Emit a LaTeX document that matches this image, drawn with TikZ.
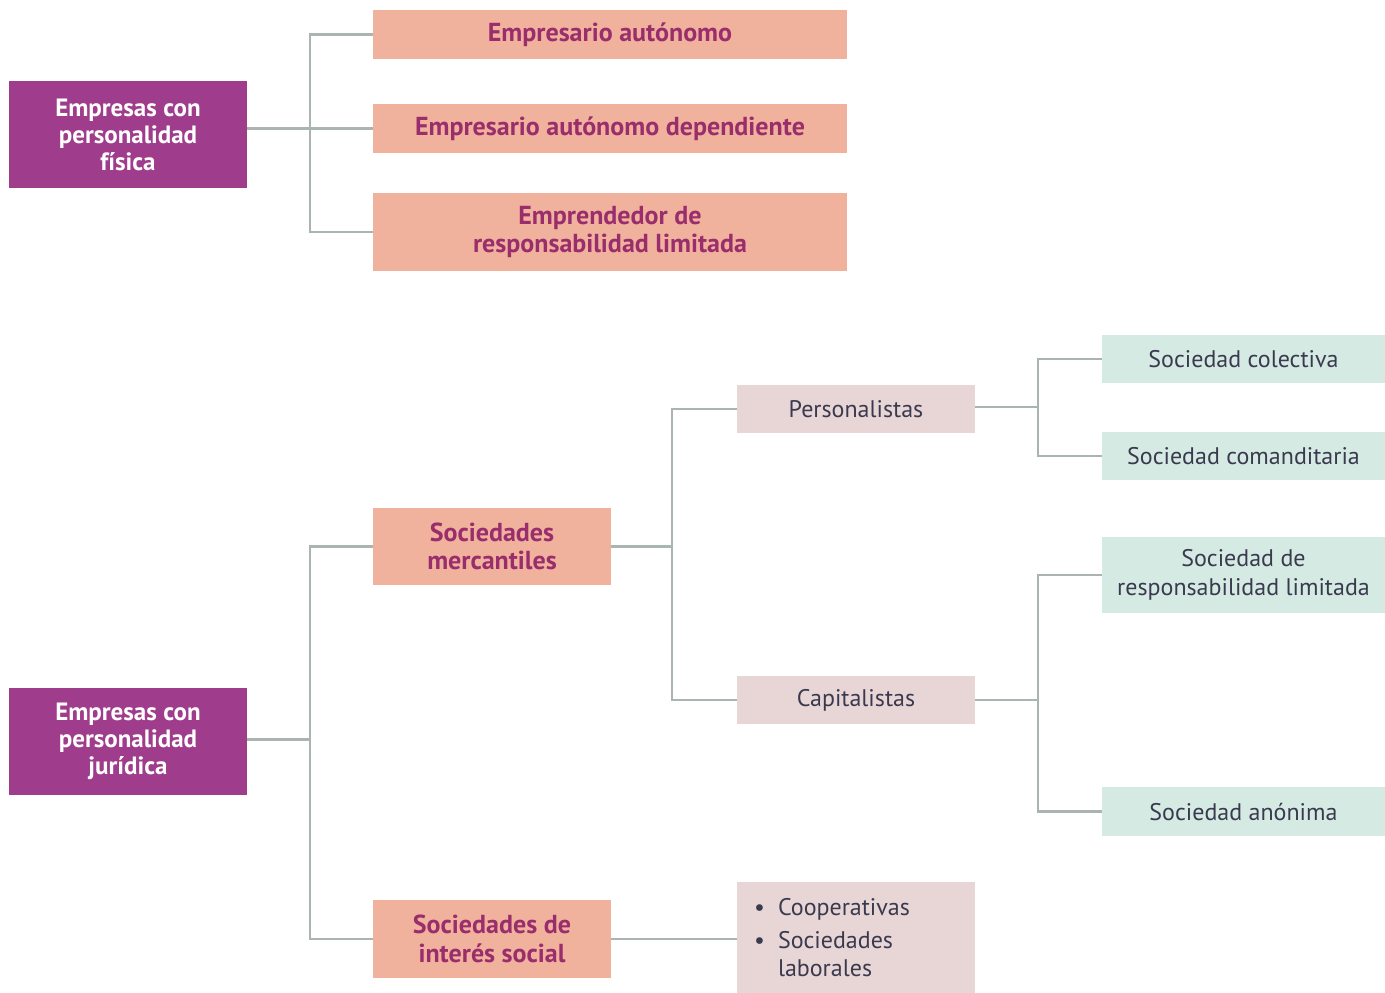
\documentclass[tikz,border=0pt]{standalone}
\usepackage{fontspec}
\setmainfont{PT Sans}
\usetikzlibrary{calc}
\definecolor{purp}{HTML}{A03C8C}
\definecolor{salm}{HTML}{F0B29C}
\definecolor{salmtxt}{HTML}{9A2D6C}
\definecolor{pinkb}{HTML}{E8D6D7}
\definecolor{mint}{HTML}{D6EAE4}
\definecolor{darktxt}{HTML}{3A3A4E}
\definecolor{conn}{HTML}{A9B5AE}
\tikzset{
  box/.style={inner sep=0pt, outer sep=0pt, align=center, anchor=north west, font=\fontsize{24}{29}\selectfont},
  purpbox/.style={box, fill=purp, text=white, font=\fontsize{25}{27}\selectfont\bfseries},
  salmbox/.style={box, fill=salm, text=salmtxt, font=\fontsize{26}{28.5}\selectfont\bfseries},
  pinkbox/.style={box, fill=pinkb, text=darktxt},
  mintbox/.style={box, fill=mint, text=darktxt},
  link/.style={draw=conn, line width=2.2pt},
}
\begin{document}
\begin{tikzpicture}[x=1pt,y=-1pt]
\useasboundingbox (0,0) rectangle (1385,993);
% upper part
\node[purpbox, minimum width=238pt, minimum height=107pt] (fis) at (9,81) {Empresas con\\personalidad\\física};
\node[salmbox, minimum width=474pt, minimum height=49pt] (ea) at (373,10) {Empresario autónomo};
\node[salmbox, minimum width=474pt, minimum height=49pt] (ead) at (373,104) {Empresario autónomo dependiente};
\node[salmbox, minimum width=474pt, minimum height=78pt] (erl) at (373,193) {Emprendedor de\\responsabilidad limitada};
\draw[link] (ead.west) -- (ead.west -| fis.east);
\path (ead.west) -- ++(-63,0) coordinate (j1);
\draw[link] (ea.west) -| (j1);
\draw[link] (erl.west) -| (j1);
% lower part
\node[purpbox, minimum width=238pt, minimum height=107pt] (jur) at (9,688) {Empresas con\\personalidad\\jurídica};
\node[salmbox, minimum width=238pt, minimum height=77pt] (merc) at (373,508) {Sociedades\\mercantiles};
\node[salmbox, minimum width=238pt, minimum height=78pt] (soc) at (373,900) {Sociedades de\\interés social};
\node[pinkbox, minimum width=238pt, minimum height=48pt] (pers) at (737,385) {Personalistas};
\node[pinkbox, minimum width=238pt, minimum height=48pt] (cap) at (737,676) {Capitalistas};
\node[pinkbox, minimum width=238pt, minimum height=111pt, align=left, text width=238pt, font=\fontsize{24}{30}\selectfont] (coop) at (737,882) {%
  \hspace*{17pt}\makebox[24pt][l]{•}Cooperativas\\[3pt]
  \hspace*{17pt}\makebox[24pt][l]{•}Sociedades\\[-2pt]
  \hspace*{41pt}laborales\\[2pt]};
\node[mintbox, minimum width=283pt, minimum height=48pt] (scol) at (1102,335) {Sociedad colectiva};
\node[mintbox, minimum width=283pt, minimum height=48pt] (scom) at (1102,432) {Sociedad comanditaria};
\node[mintbox, minimum width=283pt, minimum height=76pt] (srl) at (1102,537) {Sociedad de\\responsabilidad limitada};
\node[mintbox, minimum width=283pt, minimum height=49pt] (san) at (1102,787) {Sociedad anónima};
\path (jur.east) -- ++(63,-2) coordinate (j2);
\path (merc.east) -- ++(61,0) coordinate (j3);
\path (pers.east) -- ++(63,-2) coordinate (j4);
\path (cap.east) -- ++(63,0) coordinate (j5);
\draw[link] (jur.east |- j2) -- (j2);
\draw[link] (merc.west) -| (j2);
\draw[link] (soc.west) -| (j2);
\draw[link] (merc.east) -- (j3);
\draw[link] (pers.west) -| (j3);
\draw[link] (cap.west) -| (j3);
\draw[link] (pers.east |- j4) -- (j4);
\draw[link] (scol.west) -| (j4);
\draw[link] (scom.west) -| (j4);
\draw[link] (cap.east) -- (j5);
\draw[link] (srl.west) -| (j5);
\draw[link] (san.west) -| (j5);
\draw[link] (soc.east) -- (soc.east -| coop.west);
\end{tikzpicture}
\end{document}
